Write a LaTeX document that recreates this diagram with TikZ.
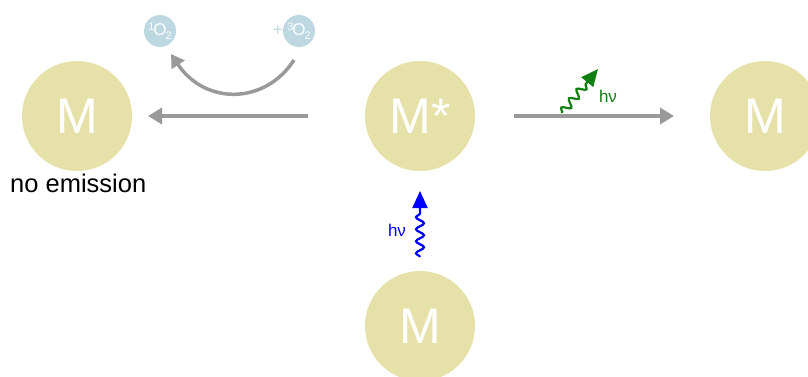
\documentclass[tikz,border=0pt]{standalone}
\usepackage{fontspec}
\setmainfont{Liberation Sans}
\usetikzlibrary{arrows.meta,decorations.pathmorphing}
\definecolor{mol}{HTML}{E6E1A8}
\definecolor{oxy}{HTML}{BDD8E1}
\definecolor{arr}{HTML}{999999}
\definecolor{grn}{HTML}{117F11}
\tikzset{
  bigmol/.style={circle,fill=mol,minimum size=110pt,inner sep=0pt,text=white,font=\fontsize{50}{50}\selectfont},
  smallmol/.style={circle,fill=oxy,minimum size=32pt,inner sep=0pt,text=white,font=\fontsize{17}{17}\selectfont},
  grayarrow/.style={draw=arr,line width=3.5pt,-{Triangle[length=14pt,width=16pt]}},
  wavy/.style={line width=2.2pt,-{Triangle[length=17pt,width=15pt]},decorate,decoration={snake,amplitude=4pt,segment length=12pt,post length=18pt}},
}
\newcommand{\supsm}[1]{\raisebox{5pt}{\fontsize{11}{11}\selectfont #1}}
\newcommand{\subsm}[1]{\raisebox{-4pt}{\fontsize{11}{11}\selectfont #1}}
\begin{document}
\begin{tikzpicture}[x=1pt,y=-1pt]
\useasboundingbox (0,0) rectangle (808,376);
\node[bigmol] (ml) at (77,116) {M};
\node[bigmol] (ms) at (420,116) {M*};
\node[bigmol] (mr) at (765,116) {M};
\node[bigmol] (mb) at (420,326) {M};
\node[smallmol] (o1) at (160,31) {\supsm{1}\kern-1ptO\kern-1pt\subsm{2}};
\node[smallmol] (o3) at (299,31) {\supsm{3}\kern-1ptO\kern-1pt\subsm{2}};
\node[text=oxy,font=\fontsize{17}{17}\selectfont,anchor=east,inner sep=0pt] (plus) at (283,31) {+};
\node[font=\fontsize{25.5}{25.5}\selectfont,anchor=west,inner sep=0pt] (noem) at (10,183) {no emission};
\coordinate (la) at (308,116);
\coordinate (lb) at (148,116);
\draw[grayarrow] (la) -- (lb);
\coordinate (ra) at (514,116);
\coordinate (rb) at (674,116);
\draw[grayarrow] (ra) -- (rb);
\coordinate (ca) at (294,60);
\coordinate (cb) at (171,54);
\draw[draw=arr,line width=3.5pt,-{Triangle[length=13pt,width=15pt]}] (ca) .. controls (265,105) and (205,105) .. (cb);
\coordinate (ga) at (562,113);
\coordinate (gb) at (598,69);
\draw[wavy,draw=grn] (ga) -- (gb);
\node[text=grn,font=\fontsize{17}{17}\selectfont] (gl) at (608,96) {hν};
\coordinate (ba) at (420,257);
\coordinate (bb) at (420,191);
\draw[wavy,draw=blue] (ba) -- (bb);
\node[text=blue,font=\fontsize{17}{17}\selectfont] (bl) at (397,230) {hν};
\end{tikzpicture}
\end{document}
